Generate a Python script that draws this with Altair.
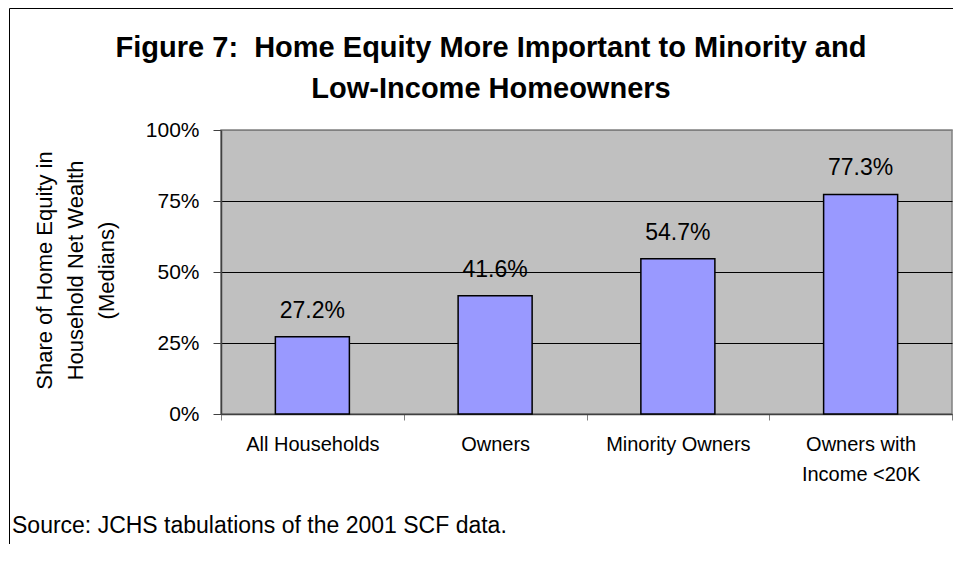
import altair as alt
import pandas as pd

# ---- data ----
categories = ["All Households", "Owners", "Minority Owners", "Owners with Income <20K"]
shares = [0.272, 0.416, 0.547, 0.773]
share_labels = ["27.2%", "41.6%", "54.7%", "77.3%"]
y_ticks = [0, 0.25, 0.5, 0.75, 1.0]
title_lines = ["Figure 7:\u00a0 Home Equity More Important to Minority and",
               "Low-Income Homeowners"]
y_title_lines = ["Share of Home Equity in", "Household Net Wealth", "(Medians)"]
source_text = "Source: JCHS tabulations of the 2001 SCF data."

FONT = "Liberation Sans"
W, H = 731, 284

df = pd.DataFrame({"category": categories, "share": shares, "label": share_labels})
one = pd.DataFrame({"k": [0]})

x_enc = alt.X(
    "category:N",
    sort=categories,
    scale=alt.Scale(paddingInner=0, paddingOuter=0),
    axis=alt.Axis(
        title=None,
        labelAngle=0,
        labelFont=FONT,
        labelFontSize=20,
        labelColor="black",
        labelPadding=14,
        labelLineHeight=30,
        labelBaseline="top",
        labelExpr="datum.label == 'Owners with Income <20K' ? ['Owners with', 'Income <20K'] : datum.label",
        tickBand="extent",
        tickSize=6,
        tickColor="#808080",
        domainColor="#404040",
        domainWidth=1.5,
        grid=False,
    ),
)

y_enc = alt.Y(
    "share:Q",
    scale=alt.Scale(domain=[0, 1], nice=False, zero=True),
    axis=alt.Axis(
        values=y_ticks,
        format=".0%",
        title=y_title_lines,
        titleFont=FONT,
        titleFontSize=22,
        titleFontWeight="normal",
        titleColor="black",
        titleAngle=270,
        titleAlign="center",
        titleBaseline="middle",
        titleLineHeight=31,
        titleX=-177,
        titleY=140,
        labelFont=FONT,
        labelFontSize=21,
        labelColor="black",
        labelPadding=14,
        tickSize=8,
        tickColor="#404040",
        domainColor="#404040",
        domainWidth=1.5,
        grid=True,
        gridColor=alt.condition("datum.value >= 1", alt.value("#808080"), alt.value("black")),
        gridWidth=1,
    ),
)

bars = alt.Chart(df).mark_bar(
    width={"band": 0.405}, fill="#9999FF", stroke="black", strokeWidth=1.5
).encode(x=x_enc, y=y_enc)

bar_text = alt.Chart(df).mark_text(
    font=FONT, fontSize=23, color="black", baseline="alphabetic", dy=-19
).encode(x=alt.X("category:N", sort=categories), y="share:Q", text="label:N")

title = alt.Chart(one).mark_text(
    font=FONT, fontSize=29, fontWeight="bold", color="black",
    align="center", baseline="top", lineHeight=41,
).encode(x=alt.value(270), y=alt.value(-96), text=alt.value(title_lines))

source = alt.Chart(one).mark_text(
    font=FONT, fontSize=23, color="black", align="left", baseline="alphabetic",
).encode(x=alt.value(-209), y=alt.value(403), text=alt.value(source_text))

frame_left = alt.Chart(one).mark_rule(color="black", strokeWidth=1).encode(
    x=alt.value(-211.5), y=alt.value(-121.5), y2=alt.value(414)
)
frame_top = alt.Chart(one).mark_rule(color="black", strokeWidth=1).encode(
    x=alt.value(-211.5), x2=alt.value(732), y=alt.value(-121.5)
)

chart = alt.layer(bars, bar_text, title, source, frame_left, frame_top).properties(
    width=W,
    height=H,
    padding={"left": 213, "top": 122, "right": 1, "bottom": 130},
    autosize=alt.AutoSizeParams(type="none"),
    background="white",
).configure_view(
    fill="#C0C0C0", stroke="#808080", strokeWidth=1.5
)

chart.save("out.html", embed_options={"renderer": "svg", "actions": False})
